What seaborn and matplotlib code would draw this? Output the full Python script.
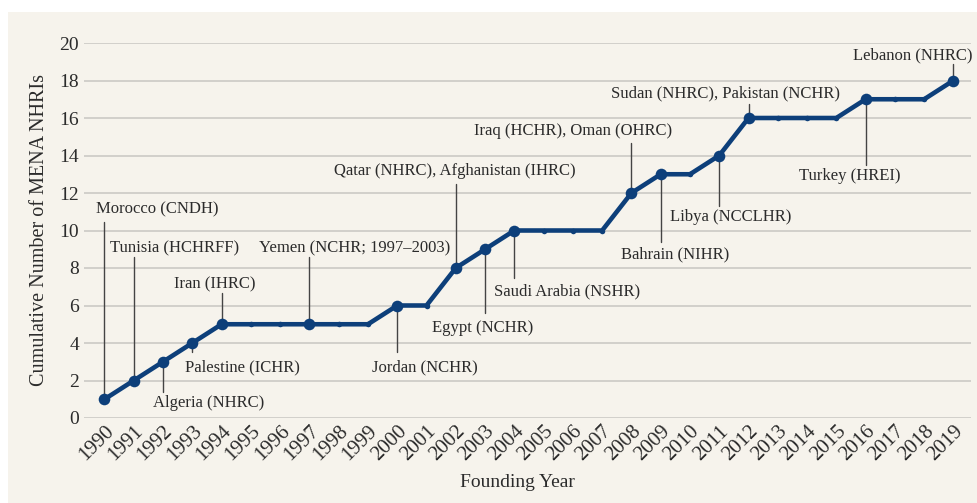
import matplotlib
matplotlib.use("Agg")
import matplotlib.pyplot as plt
from matplotlib.patches import Rectangle
import seaborn as sns
import pandas as pd

years = list(range(1990, 2020))
counts = [1, 2, 3, 4, 5, 5, 5, 5, 5, 5, 6, 6, 8, 9, 10,
          10, 10, 10, 12, 13, 13, 14, 16, 16, 16, 16, 17, 17, 17, 18]

# labelled founding years and their institutions
label_years = [1990, 1991, 1992, 1993, 1994, 1997, 2000, 2002, 2003, 2004,
               2008, 2009, 2011, 2012, 2016, 2019]
label_texts = ["Morocco (CNDH)", "Tunisia (HCHRFF)", "Algeria (NHRC)",
               "Palestine (ICHR)", "Iran (IHRC)", "Yemen (NCHR; 1997\u20132003)",
               "Jordan (NCHR)", "Qatar (NHRC), Afghanistan (IHRC)",
               "Egypt (NCHR)", "Saudi Arabia (NSHR)", "Iraq (HCHR), Oman (OHRC)",
               "Bahrain (NIHR)", "Libya (NCCLHR)", "Sudan (NHRC), Pakistan (NCHR)",
               "Turkey (HREI)", "Lebanon (NHRC)"]

# layout: text centre (x, y) and where the leader line stops
label_pos = [(1991.8, 11.1, 10.45), (1992.4, 9.07, 8.6), (1993.55, 0.8, 1.4),
             (1994.7, 2.7, 3.5), (1993.75, 7.1, 6.65), (1998.55, 9.07, 8.6),
             (2000.95, 2.7, 3.5), (2001.95, 13.2, 12.5), (2002.9, 4.8, 5.6),
             (2005.8, 6.77, 7.45), (2006.0, 15.3, 14.65), (2009.5, 8.75, 9.4),
             (2011.4, 10.7, 11.3), (2011.2, 17.3, 16.75), (2015.45, 12.9, 13.5),
             (2017.6, 19.36, 18.9)]

df = pd.DataFrame({"year": years, "count": counts})
navy = "#0d3f7a"
bg = "#f6f3ec"
txt = "#2b2b2b"

sns.set_style("white")
plt.rcParams["font.family"] = ["Liberation Serif", "DejaVu Serif"]

fig = plt.figure(figsize=(9.78, 5.03), dpi=100)
fig.patches.append(Rectangle((8 / 978, 0), 1, 1 - 12 / 503, transform=fig.transFigure,
                             facecolor=bg, edgecolor="none", zorder=-10))
ax = fig.add_axes([84 / 978, 85 / 503, 887 / 978, 375 / 503])
ax.set_facecolor("none")

sns.lineplot(data=df, x="year", y="count", ax=ax, color=navy, linewidth=3.3,
             marker="o", markersize=4, markeredgewidth=0, zorder=3)
lab = df[df["year"].isin(label_years)]
sns.scatterplot(data=lab, x="year", y="count", ax=ax, color=navy, s=70,
                linewidth=0, zorder=4)

val = dict(zip(years, counts))
for yr, text, (tx, ty, ly) in zip(label_years, label_texts, label_pos):
    ax.plot([yr, yr], [val[yr], ly], color="#444444", lw=1, zorder=2)
    ax.text(tx, ty, text, ha="center", va="center", fontsize=12, color=txt)

ax.set_xlim(1989.3, 2019.6)
ax.set_ylim(0, 20)
ax.set_yticks(range(0, 21, 2))
ax.set_xticks(years)
ax.set_xticklabels([str(y) for y in years], rotation=45, ha="right",
                   rotation_mode="anchor")
ax.tick_params(axis="both", length=0, colors=txt)
ax.tick_params(axis="y", labelsize=14)
ax.tick_params(axis="x", labelsize=15, pad=3)
ax.grid(axis="y", color="#cfcdc8", lw=1.3)
ax.grid(axis="x", visible=False)
for s in ax.spines.values():
    s.set_visible(False)

ax.set_xlabel("Founding Year", fontsize=14, color=txt)
ax.xaxis.set_label_coords(0.489, -0.15)
ax.set_ylabel("Cumulative Number of MENA NHRIs", fontsize=14.5, color=txt)
ax.yaxis.set_label_coords(-0.04, 0.5)

fig.savefig("out.png", dpi=100, facecolor="white")
